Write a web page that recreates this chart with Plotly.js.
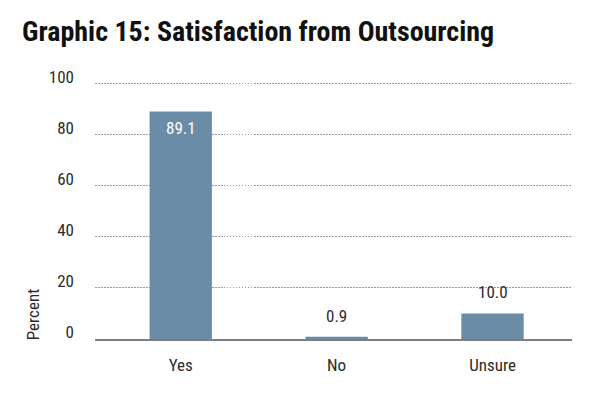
<!DOCTYPE html>
<html>
<head>
<meta charset="utf-8">
<script src="https://cdn.plot.ly/plotly-3.0.1.min.js"></script>
<style>html,body{margin:0;padding:0;background:#fff;}#chart{width:600px;height:395px;}</style>
</head>
<body>
<div id="chart"></div>
<script>
const categories = ["Yes", "No", "Unsure"];
const percentValues = [89.1, 0.9, 10.0];
const valueLabels = ["89.1", "0.9", "10.0"];
const yTickValues = [0, 20, 40, 60, 80, 100];
const yTickLabels = ["0", "20", "40", "60", "80", "100"];

const FONT = '"Roboto Condensed", "DejaVu Sans Condensed", sans-serif';
const BAR = '#6a8ca7';

const trace = {
  type: 'bar',
  x: categories,
  y: percentValues,
  width: 0.4,
  marker: {color: BAR, line: {width: 0}},
  hoverinfo: 'x+y'
};

const annotations = categories.map((c, i) => {
  const inside = percentValues[i] > 50;
  return {
    x: c, y: percentValues[i], xref: 'x', yref: 'y',
    text: valueLabels[i], showarrow: false,
    yanchor: inside ? 'top' : 'bottom',
    yshift: inside ? -5 : 9,
    font: {family: FONT, size: 17, color: inside ? '#ffffff' : '#2b2b2b'}
  };
});
annotations.push({
  text: 'Percent', xref: 'paper', yref: 'paper', x: -0.13, y: 0.096,
  xanchor: 'center', yanchor: 'middle', textangle: -90, showarrow: false,
  font: {family: FONT, size: 17, color: '#2b2b2b'}
});

const layout = {
  width: 600, height: 395,
  margin: {l: 95, r: 28, t: 81, b: 56, pad: 0},
  paper_bgcolor: '#ffffff', plot_bgcolor: '#ffffff',
  showlegend: false,
  title: {
    text: '<b>Graphic 15: Satisfaction from Outsourcing</b>',
    font: {family: FONT, size: 28, color: '#111111'},
    x: 22/600, xanchor: 'left', xref: 'container',
    y: 1 - 31/395, yanchor: 'middle', yref: 'container'
  },
  xaxis: {
    type: 'category', range: [-0.55, 2.51],
    showgrid: false, zeroline: false,
    showline: true, linecolor: '#7f7f7f', linewidth: 1.5,
    ticks: '', ticklabelstandoff: 10,
    tickfont: {family: FONT, size: 17, color: '#2b2b2b'},
    fixedrange: true
  },
  yaxis: {
    range: [0, 101],
    tickvals: yTickValues, ticktext: yTickLabels,
    showgrid: true, gridcolor: '#999999', gridwidth: 1, griddash: '1.5px,1.5px',
    zeroline: false, showline: false,
    ticks: '', ticklabelstandoff: 20, ticklabelshift: -7,
    tickfont: {family: FONT, size: 17, color: '#2b2b2b'},
    fixedrange: true
  },
  annotations: annotations
};

Plotly.newPlot('chart', [trace], layout, {displayModeBar: false, staticPlot: true});
</script>
</body>
</html>
